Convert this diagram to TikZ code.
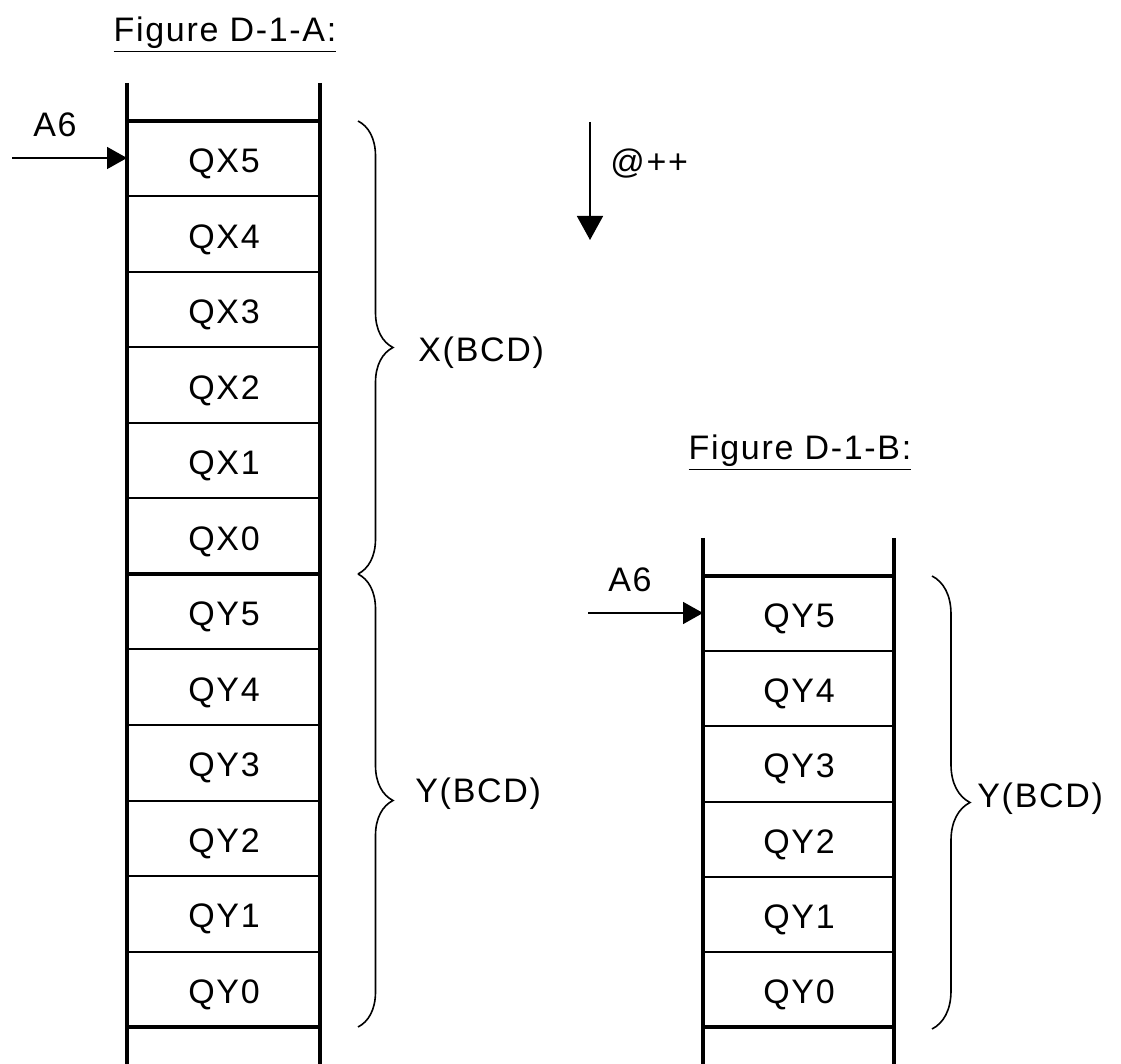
\documentclass[tikz,border=0pt]{standalone}
\usepackage{fontspec}
\setmainfont{Liberation Sans}[LetterSpace=5]
\usetikzlibrary{arrows.meta,decorations.pathreplacing}
\begin{document}
\begin{tikzpicture}[x=0.5pt,y=-0.5pt,
  txt/.style={font=\fontsize{17}{20}\selectfont, inner sep=0pt},
  wall/.style={line width=2pt},
  thickrule/.style={line width=1.6pt},
  thinrule/.style={line width=1pt},
  bracestyle/.style={decorate, decoration={brace, amplitude=#1}, line width=0.8pt},
  ptr/.style={line width=0.8pt, -{Triangle[length=10pt,width=11pt]}},
  bigptr/.style={line width=0.8pt, -{Triangle[length=12pt,width=13pt]}}
]
\useasboundingbox (0,0) rectangle (1121,1064);

% ---------- Figure A ----------
\node[txt, anchor=base] (titleA) at (225,42) {\underline{Figure D-1-A:}};
\draw[wall] (127,83) -- (127,1064);
\draw[wall] (320,83) -- (320,1064);
\foreach \yy in {121,574,1027} \draw[thickrule] (127,\yy) -- (320,\yy);
\foreach \yy in {196.5,272,347.5,423,498.5,649.5,725,800.5,876,951.5} \draw[thinrule] (127,\yy) -- (320,\yy);
\foreach \lab [count=\i from 0] in {QX5,QX4,QX3,QX2,QX1,QX0,QY5,QY4,QY3,QY2,QY1,QY0}
  \node[txt] (A\i) at (224,{164+75.5*\i}) {\lab};

\node[txt, anchor=base west] (A6a) at (33,137) {A6};
\coordinate (A6astart) at (12,158);
\draw[ptr] (A6astart) -- (127,158);

\coordinate (bxTop) at (358,121);
\coordinate (bxMid) at (358,574);
\coordinate (bxBot) at (358,1027);
\draw[bracestyle=17.5pt] (bxTop) -- (bxMid);
\draw[bracestyle=17.5pt] (bxMid) -- (bxBot);
\node[txt, anchor=base west] (XBCD) at (418,362) {X(BCD)};
\node[txt, anchor=base west] (YBCDa) at (415,802) {Y(BCD)};

\coordinate (incTop) at (590,122);
\coordinate (incBot) at (590,240);
\draw[bigptr] (incTop) -- (incBot);
\node[txt, anchor=base west] (inc) at (610,174) {@++};

% ---------- Figure B ----------
\node[txt, anchor=base] (titleB) at (800,460) {\underline{Figure D-1-B:}};
\draw[wall] (703,538) -- (703,1064);
\draw[wall] (894,538) -- (894,1064);
\foreach \yy in {576,1027} \draw[thickrule] (703,\yy) -- (894,\yy);
\foreach \yy in {651.2,726.3,801.5,876.7,951.8} \draw[thinrule] (703,\yy) -- (894,\yy);
\foreach \lab [count=\i from 0] in {QY5,QY4,QY3,QY2,QY1,QY0}
  \node[txt] (B\i) at (799,{619+75.17*\i}) {\lab};

\node[txt, anchor=base west] (A6b) at (608,592) {A6};
\coordinate (A6bstart) at (588,613);
\draw[ptr] (A6bstart) -- (703,613);

\coordinate (byTop) at (932,576);
\coordinate (byBot) at (932,1029);
\draw[bracestyle=19pt] (byTop) -- (byBot);
\node[txt, anchor=base west] (YBCDb) at (977,807) {Y(BCD)};
\end{tikzpicture}
\end{document}
